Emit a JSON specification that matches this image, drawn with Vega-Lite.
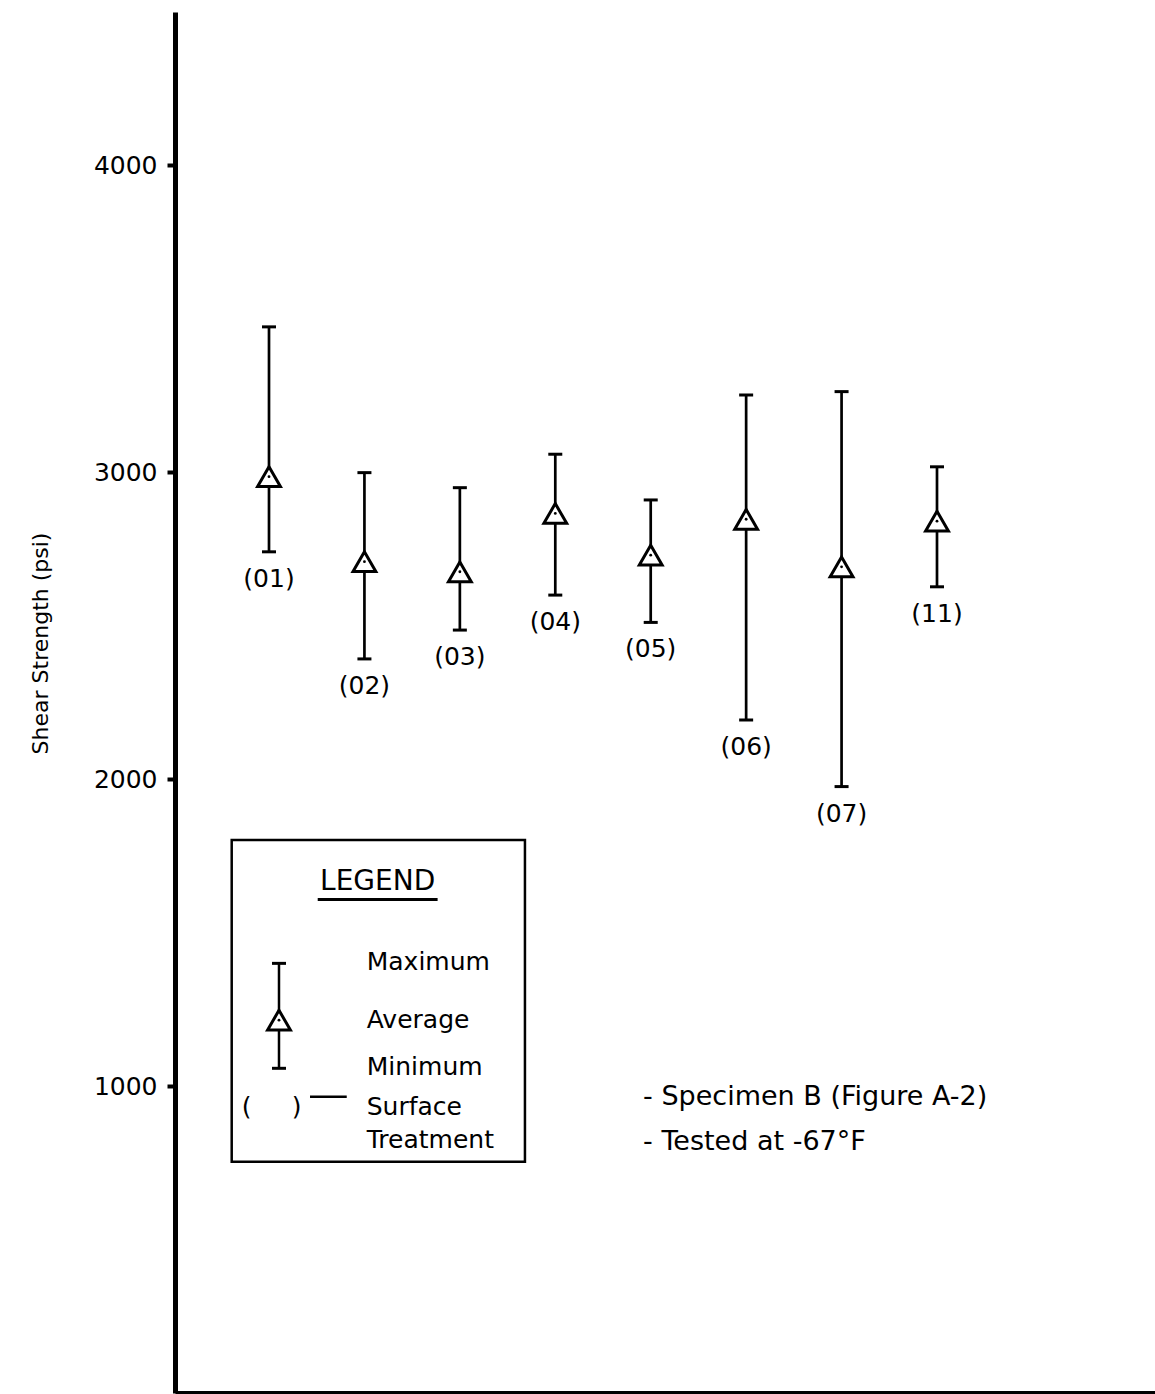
{
  "$schema": "https://vega.github.io/schema/vega-lite/v6.json",
  "autosize": {"type": "none"},
  "padding": {"left": 175, "top": 12, "right": 0, "bottom": 1},
  "width": 980,
  "height": 1381,
  "background": "white",
  "config": {
    "view": {"stroke": null},
    "font": "DejaVu Sans",
    "text": {"font": "DejaVu Sans", "color": "black"},
    "axisY": {"titleFontSize": 22, "titleFont": "DejaVu Sans", "titleFontWeight": "normal", "titleColor": "black",
      "titleAngle": -90, "titleX": -135, "titleY": 631, "titleAlign": "center", "titleBaseline": "middle",
      "grid": false, "domainWidth": 5, "domainColor": "black",
      "tickColor": "black", "tickWidth": 4, "tickSize": 8, "labelFontSize": 25, "labelFont": "DejaVu Sans", "labelColor": "black", "labelPadding": 10}
  },
  "resolve": {"scale": {"x": "independent"}, "axis": {"x": "independent"}},
  "layer": [
    {
      "data": {"values": [
        {"treatment": "(01)", "max": 3474, "avg": 2986, "min": 2741},
        {"treatment": "(02)", "max": 2999, "avg": 2709, "min": 2392},
        {"treatment": "(03)", "max": 2950, "avg": 2676, "min": 2486},
        {"treatment": "(04)", "max": 3059, "avg": 2866, "min": 2600},
        {"treatment": "(05)", "max": 2910, "avg": 2730, "min": 2511},
        {"treatment": "(06)", "max": 3252, "avg": 2847, "min": 2193},
        {"treatment": "(07)", "max": 3263, "avg": 2692, "min": 1976},
        {"treatment": "(11)", "max": 3018, "avg": 2841, "min": 2627}
      ]},
      "encoding": {
        "x": {"field": "treatment", "type": "nominal", "sort": null,
          "scale": {"type": "point", "padding": 0, "range": [94, 762]},
          "axis": null}
      },
      "layer": [
        {"mark": {"type": "rule", "strokeWidth": 2.7, "color": "black"},
         "encoding": {
           "y": {"field": "min", "type": "quantitative", "title": "Shear Strength (psi)",
             "scale": {"domain": [0, 4500], "nice": false, "zero": false},
             "axis": {"values": [1000, 2000, 3000, 4000], "format": "d"}},
           "y2": {"field": "max"}}},
        {"mark": {"type": "tick", "size": 14, "thickness": 3, "color": "black", "opacity": 1},
         "encoding": {"y": {"field": "max", "type": "quantitative", "title": "Shear Strength (psi)"}}},
        {"mark": {"type": "tick", "size": 14, "thickness": 3, "color": "black", "opacity": 1},
         "encoding": {"y": {"field": "min", "type": "quantitative", "title": "Shear Strength (psi)"}}},
        {"mark": {"type": "point", "shape": "triangle-up", "size": 520, "filled": true, "fill": "white", "stroke": "black", "strokeWidth": 3, "opacity": 1},
         "encoding": {"y": {"field": "avg", "type": "quantitative", "title": "Shear Strength (psi)"}}},
        {"mark": {"type": "circle", "size": 8, "color": "black", "opacity": 1},
         "encoding": {"y": {"field": "avg", "type": "quantitative", "title": "Shear Strength (psi)"}}},
        {"mark": {"type": "text", "fontSize": 25, "dy": 27, "baseline": "middle", "align": "center"},
         "encoding": {"y": {"field": "min", "type": "quantitative", "title": "Shear Strength (psi)"}, "text": {"field": "treatment"}}}
      ]
    },
    {
      "data": {"values": [{}]},
      "layer": [
        {"mark": {"type": "rect", "fill": "transparent", "stroke": "black", "strokeWidth": 2.5},
         "encoding": {
           "x": {"datum": 0.596, "type": "quantitative", "scale": {"domain": [0, 10.3], "nice": false, "zero": false},
             "axis": {"orient": "bottom", "domain": true, "domainWidth": 5, "domainColor": "black", "ticks": false, "labels": false, "title": null, "grid": false}},
           "x2": {"datum": 3.678},
           "y": {"datum": 1802, "type": "quantitative", "title": "Shear Strength (psi)"},
           "y2": {"datum": 753.7}}},
        {"mark": {"type": "text", "text": "LEGEND", "fontSize": 28, "align": "center", "baseline": "middle"},
         "encoding": {"x": {"datum": 2.13, "type": "quantitative"}, "y": {"datum": 1666, "type": "quantitative", "title": "Shear Strength (psi)"}}},
        {"mark": {"type": "rule", "strokeWidth": 3, "color": "black"},
         "encoding": {"x": {"datum": 1.50, "type": "quantitative"}, "x2": {"datum": 2.76}, "y": {"datum": 1608, "type": "quantitative", "title": "Shear Strength (psi)"}}},
        {"mark": {"type": "rule", "strokeWidth": 2.5, "color": "black"},
         "encoding": {"x": {"datum": 1.093, "type": "quantitative"}, "y": {"datum": 1058, "type": "quantitative", "title": "Shear Strength (psi)"}, "y2": {"datum": 1400}}},
        {"mark": {"type": "tick", "orient": "horizontal", "size": 14, "thickness": 3, "color": "black", "opacity": 1},
         "encoding": {"x": {"datum": 1.093, "type": "quantitative"}, "y": {"datum": 1400, "type": "quantitative", "title": "Shear Strength (psi)"}}},
        {"mark": {"type": "tick", "orient": "horizontal", "size": 14, "thickness": 3, "color": "black", "opacity": 1},
         "encoding": {"x": {"datum": 1.093, "type": "quantitative"}, "y": {"datum": 1058, "type": "quantitative", "title": "Shear Strength (psi)"}}},
        {"mark": {"type": "point", "shape": "triangle-up", "size": 520, "filled": true, "fill": "white", "stroke": "black", "strokeWidth": 3, "opacity": 1},
         "encoding": {"x": {"datum": 1.093, "type": "quantitative"}, "y": {"datum": 1215, "type": "quantitative", "title": "Shear Strength (psi)"}}},
        {"mark": {"type": "circle", "size": 8, "color": "black", "opacity": 1},
         "encoding": {"x": {"datum": 1.093, "type": "quantitative"}, "y": {"datum": 1215, "type": "quantitative", "title": "Shear Strength (psi)"}}},
        {"mark": {"type": "text", "text": "Maximum", "fontSize": 25, "align": "left", "baseline": "middle"},
         "encoding": {"x": {"datum": 2.015, "type": "quantitative"}, "y": {"datum": 1405, "type": "quantitative", "title": "Shear Strength (psi)"}}},
        {"mark": {"type": "text", "text": "Average", "fontSize": 25, "align": "left", "baseline": "middle"},
         "encoding": {"x": {"datum": 2.015, "type": "quantitative"}, "y": {"datum": 1215, "type": "quantitative", "title": "Shear Strength (psi)"}}},
        {"mark": {"type": "text", "text": "Minimum", "fontSize": 25, "align": "left", "baseline": "middle"},
         "encoding": {"x": {"datum": 2.015, "type": "quantitative"}, "y": {"datum": 1063, "type": "quantitative", "title": "Shear Strength (psi)"}}},
        {"mark": {"type": "text", "text": "Surface", "fontSize": 25, "align": "left", "baseline": "middle"},
         "encoding": {"x": {"datum": 2.015, "type": "quantitative"}, "y": {"datum": 933, "type": "quantitative", "title": "Shear Strength (psi)"}}},
        {"mark": {"type": "text", "text": "Treatment", "fontSize": 25, "align": "left", "baseline": "middle"},
         "encoding": {"x": {"datum": 2.015, "type": "quantitative"}, "y": {"datum": 825, "type": "quantitative", "title": "Shear Strength (psi)"}}},
        {"mark": {"type": "text", "text": "(", "fontSize": 25, "align": "center", "baseline": "middle"},
         "encoding": {"x": {"datum": 0.754, "type": "quantitative"}, "y": {"datum": 933, "type": "quantitative", "title": "Shear Strength (psi)"}}},
        {"mark": {"type": "text", "text": ")", "fontSize": 25, "align": "center", "baseline": "middle"},
         "encoding": {"x": {"datum": 1.279, "type": "quantitative"}, "y": {"datum": 933, "type": "quantitative", "title": "Shear Strength (psi)"}}},
        {"mark": {"type": "rule", "strokeWidth": 2.5, "color": "black"},
         "encoding": {"x": {"datum": 1.419, "type": "quantitative"}, "x2": {"datum": 1.805}, "y": {"datum": 965.5, "type": "quantitative", "title": "Shear Strength (psi)"}}},
        {"mark": {"type": "text", "text": "- Specimen B (Figure A-2)", "fontSize": 27, "align": "left", "baseline": "middle"},
         "encoding": {"x": {"datum": 4.92, "type": "quantitative"}, "y": {"datum": 965, "type": "quantitative", "title": "Shear Strength (psi)"}}},
        {"mark": {"type": "text", "text": "- Tested at -67°F", "fontSize": 27, "align": "left", "baseline": "middle"},
         "encoding": {"x": {"datum": 4.92, "type": "quantitative"}, "y": {"datum": 819, "type": "quantitative", "title": "Shear Strength (psi)"}}}
      ]
    }
  ]
}
